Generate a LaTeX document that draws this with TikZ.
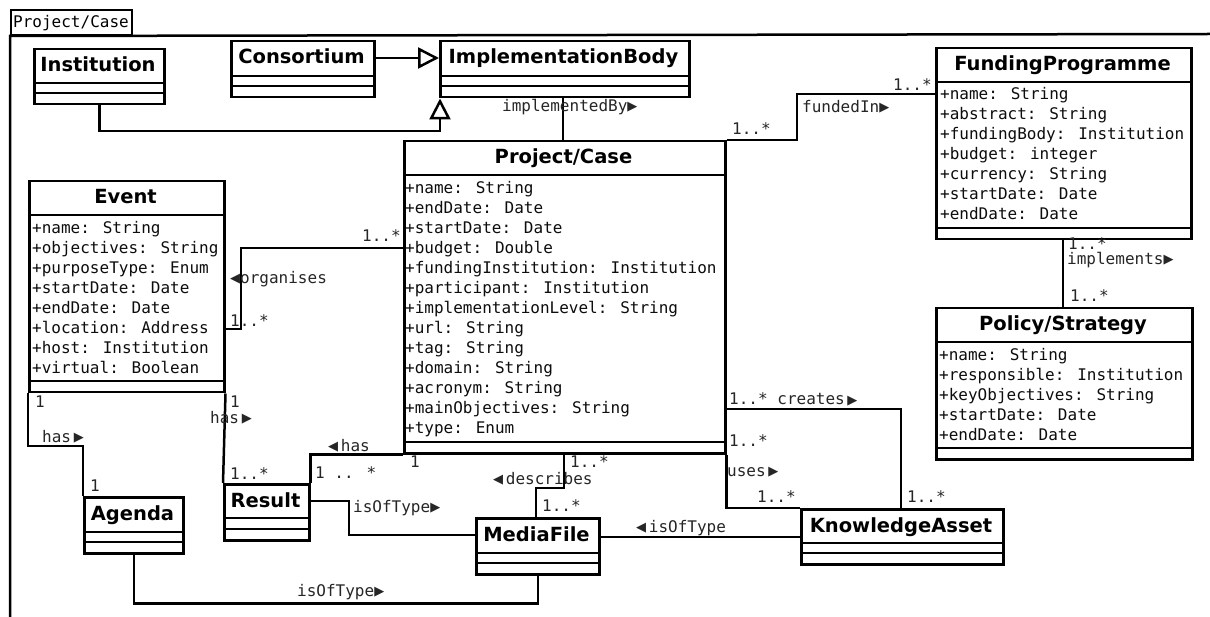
\documentclass[tikz,border=0pt]{standalone}
\usepackage{fontspec}
\usetikzlibrary{arrows.meta}
\newfontfamily\monof{DejaVu Sans Mono}
\newfontfamily\sansf{DejaVu Sans}
% navigation triangles used in association names
\newcommand\rtri{\raisebox{1pt}{\sansf\fontsize{13}{13}\selectfont\char"25B6}}
\newcommand\ltri{\raisebox{1pt}{\sansf\fontsize{13}{13}\selectfont\char"25C0}}

\tikzset{
  conn/.style={line width=2.5pt, line join=miter},
  classframe/.style={draw, line width=2.5pt, inner sep=0pt, anchor=north west, fill=white},
  ctitle/.style={font=\sansf\bfseries\fontsize{19.5}{22}\selectfont, anchor=base, inner sep=0pt},
  attr/.style={font=\monof\fontsize{16}{20}\selectfont, anchor=base west, inner sep=0pt, text=black!95},
  lbl/.style={font=\monof\fontsize{16}{20}\selectfont, anchor=base west, inner sep=0pt, text=black!85},
  gen/.style={conn, -{Triangle[open, length=21pt, width=21pt]}},
}

% UML class: name, x1, y1, x2, y2, first divider, second divider, title
\newcommand\umlclass[8]{%
  \node[classframe, minimum width={(#4-#2)*1pt}, minimum height={(#5-#3)*1pt}] (#1) at (#2,#3) {};
  \draw[conn] (#1.west |- 0,#6) -- (#1.east |- 0,#6);
  \draw[conn] (#1.west |- 0,#7) -- (#1.east |- 0,#7);
  \node[ctitle] (#1-title) at ({(#2+#4)/2},{#3+24}) {#8};
}

\begin{document}
\begin{tikzpicture}[x=1pt, y=-1pt]
\useasboundingbox (0,0) rectangle (1210,617);
\fill[white] (0,0) rectangle (1210,617);

% package frame with its tab
\node[draw, line width=2pt, inner sep=0pt, anchor=north west, minimum width=121pt, minimum height=25pt] (pkgtab) at (10,9) {};
\node[lbl, text=black] (pkgname) at (13,28) {Project/Case};
\draw[conn] (1210,34) -- (pkgtab.south west) -- (10,617);

% classes
\umlclass{inst}{33}{48}{163}{103}{83}{93}{Institution}
\umlclass{cons}{230}{40}{373}{96}{76}{86}{Consortium}
\umlclass{impl}{439}{40}{688}{96}{76}{86}{ImplementationBody}
\umlclass{proj}{403}{140}{724}{452}{175}{442}{Project/Case}
\umlclass{fund}{935}{47}{1190}{238}{82}{228}{FundingProgramme}
\umlclass{pol}{935}{307}{1191}{458}{342}{448}{Policy/Strategy}
\umlclass{event}{28}{180}{223}{391}{215}{381}{Event}
\umlclass{result}{223}{483}{308}{539}{518}{529}{Result}
\umlclass{agenda}{83}{496}{182}{552}{532}{542}{Agenda}
\umlclass{media}{475}{517}{598}{573}{553}{563}{MediaFile}
\umlclass{ka}{800}{508}{1002}{563}{543}{553}{KnowledgeAsset}

% attributes
\foreach \t [count=\i] in {+name: String,+endDate: Date,+startDate: Date,+budget: Double,
  +fundingInstitution: Institution,+participant: Institution,+implementationLevel: String,
  +url: String,+tag: String,+domain: String,+acronym: String,+mainObjectives: String,+type: Enum}
  \node[attr] (proj-a\i) at (405,{193.5+(\i-1)*20}) {\t};
\foreach \t [count=\i] in {+name: String,+objectives: String,+purposeType: Enum,+startDate: Date,
  +endDate: Date,+location: Address,+host: Institution,+virtual: Boolean}
  \node[attr] (event-a\i) at (32,{233.5+(\i-1)*20}) {\t};
\foreach \t [count=\i] in {+name: String,+abstract: String,+fundingBody: Institution,+budget: integer,
  +currency: String,+startDate: Date,+endDate: Date}
  \node[attr] (fund-a\i) at (940,{99.5+(\i-1)*20}) {\t};
\foreach \t [count=\i] in {+name: String,+responsible: Institution,+keyObjectives: String,
  +startDate: Date,+endDate: Date}
  \node[attr] (pol-a\i) at (939,{360.5+(\i-1)*20}) {\t};

% generalisations
\draw[gen] (cons.east |- 0,58) -- (impl.west |- 0,58);
\draw[gen] (inst.south) |- (440,131) -- (440,0 |- impl.south);

% associations
\draw[conn] (563,0 |- impl.south) -- (563,0 |- proj.north);
\draw[conn] (proj.north east) -- (797,0 |- proj.north) |- (fund.west |- 0,94);
\draw[conn] (1063,0 |- fund.south) -- (1063,0 |- pol.north);
\draw[conn] (event.east |- 0,329) -- (241,329) |- (proj.west |- 0,248);
\draw[conn] (event.south west) -- (28,446) -| (agenda.north west);
\draw[conn] (event.south east) -- (result.north west);
\draw[conn] (proj.south west) -| (result.north east);
\draw[conn] (564,0 |- proj.south) -- (564,488) -| (536,0 |- media.north);
\draw[conn] (result.east |- 0,501) -- (349,501) |- (media.west |- 0,535);
\draw[conn] (media.south) -- ++(0,28) -| (agenda.south);
\draw[conn] (media.east |- ka.west) -- (ka.west);
\draw[conn] (proj.south east) |- (ka.north west);
\draw[conn] (proj.east |- 0,409) -| (901,0 |- ka.north);

% association names and multiplicities
\node[lbl] (l-implby) at (502,112) {implementedBy\rtri};
\node[lbl] (l-fund1) at (732,135) {1..*};
\node[lbl] (l-fundin) at (802,113) {fundedIn\rtri};
\node[lbl] (l-fund2) at (893,91) {1..*};
\node[lbl] (l-impl1) at (1068,250) {1..*};
\node[lbl] (l-impls) at (1067,265) {implements\rtri};
\node[lbl] (l-impl2) at (1070,302) {1..*};
\node[lbl] (l-org1) at (362,242) {1..*};
\node[lbl] (l-org) at (230,284) {\ltri organises};
\node[lbl] (l-org2) at (230,327) {1..*};
\node[lbl] (l-ag1) at (35,407) {1};
\node[lbl] (l-aghas) at (42,442) {has\,\rtri};
\node[lbl] (l-ag2) at (90,491) {1};
\node[lbl] (l-re1) at (230,407) {1};
\node[lbl] (l-rehas) at (210,423) {has\,\rtri};
\node[lbl] (l-re2) at (230,479) {1..*};
\node[lbl] (l-prhas) at (328,451) {\ltri\,has};
\node[lbl] (l-pr1) at (315,478) {1 .. *};
\node[lbl] (l-pr2) at (410,467) {1};
\node[lbl] (l-rmtype) at (353,512) {isOfType\rtri};
\node[lbl] (l-desc1) at (570,467) {1..*};
\node[lbl] (l-desc) at (493,484) {\ltri\,describes};
\node[lbl] (l-desc2) at (542,511) {1..*};
\node[lbl] (l-katype) at (636,532) {\ltri\,isOfType};
\node[lbl] (l-agtype) at (297,596) {isOfType\rtri};
\node[lbl] (l-creates) at (729,405) {1..* creates\,\rtri};
\node[lbl] (l-uses1) at (729,446) {1..*};
\node[lbl] (l-uses) at (727,476) {uses\,\rtri};
\node[lbl] (l-uses2) at (757,502) {1..*};
\node[lbl] (l-cre2) at (907,502) {1..*};
\end{tikzpicture}
\end{document}
